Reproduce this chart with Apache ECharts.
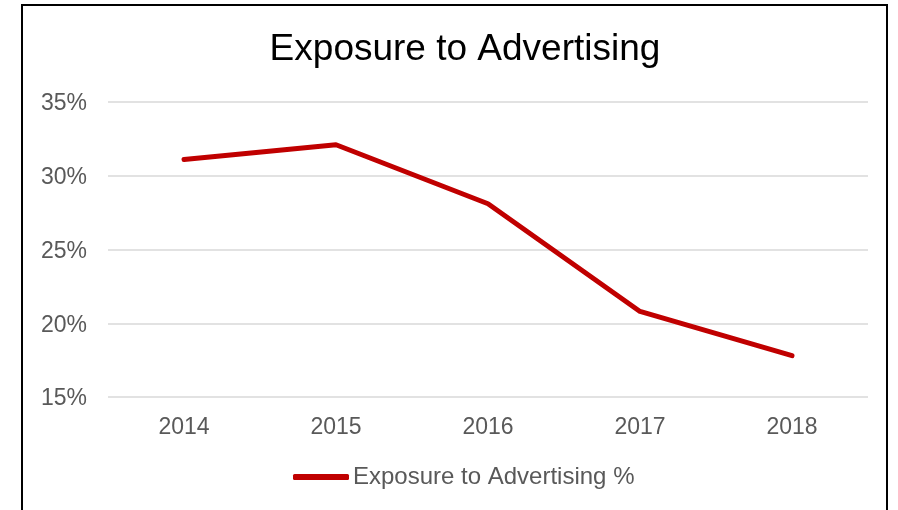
<!DOCTYPE html>
<html>
<head>
<meta charset="utf-8">
<script src="https://cdn.jsdelivr.net/npm/echarts@6/dist/echarts.min.js"></script>
<style>
  html, body { margin: 0; padding: 0; background: #fff; }
  #chart { width: 898px; height: 510px; }
</style>
</head>
<body>
<div id="chart"></div>
<script>
// Share of respondents exposed to advertising, by year
const years = ['2014', '2015', '2016', '2017', '2018'];
const exposure = [31.1, 32.1, 28.1, 20.8, 17.8];
const seriesName = 'Exposure to Advertising %';
const titleText = 'Exposure to Advertising';

const chart = echarts.init(document.getElementById('chart'));
const font = 'Liberation Sans, Arial, sans-serif';

chart.setOption({
  backgroundColor: '#ffffff',
  animation: false,
  title: {
    text: titleText,
    left: 460,
    textAlign: 'center',
    top: 26,
    textStyle: { fontFamily: font, fontSize: 37, fontWeight: 'normal', color: '#000000' }
  },
  graphic: [{
    type: 'rect',
    silent: true,
    shape: { x: 22, y: 5, width: 865, height: 600 },
    style: { fill: 'none', stroke: '#000000', lineWidth: 2 }
  }],
  legend: {
    data: [seriesName],
    left: 293,
    top: 465,
    padding: 0,
    itemWidth: 56,
    itemHeight: 6,
    itemGap: 4,
    icon: 'roundRect',
    textStyle: { fontFamily: font, fontSize: 24, color: '#595959', padding: [0, 0, 0, -1] }
  },
  grid: { left: 108, right: 30, top: 102, bottom: 113 },
  xAxis: {
    type: 'category',
    data: years,
    boundaryGap: true,
    axisLine: { show: false },
    axisTick: { show: false },
    axisLabel: { fontFamily: font, fontSize: 23, color: '#595959', margin: 19 }
  },
  yAxis: {
    type: 'value',
    min: 15,
    max: 35,
    interval: 5,
    axisLine: { show: false },
    axisTick: { show: false },
    axisLabel: {
      fontFamily: font, fontSize: 23, color: '#595959', margin: 21,
      formatter: '{p|{value}%}',
      rich: { p: { fontFamily: font, fontSize: 23, color: '#595959', padding: [4, 0, 0, 0] } }
    },
    splitLine: { lineStyle: { color: '#d9d9d9', width: 1.5 } }
  },
  series: [{
    name: seriesName,
    type: 'line',
    data: exposure,
    symbol: 'none',
    lineStyle: { color: '#c00000', width: 5, cap: 'round', join: 'round' },
    itemStyle: { color: '#c00000' }
  }]
});
</script>
</body>
</html>
